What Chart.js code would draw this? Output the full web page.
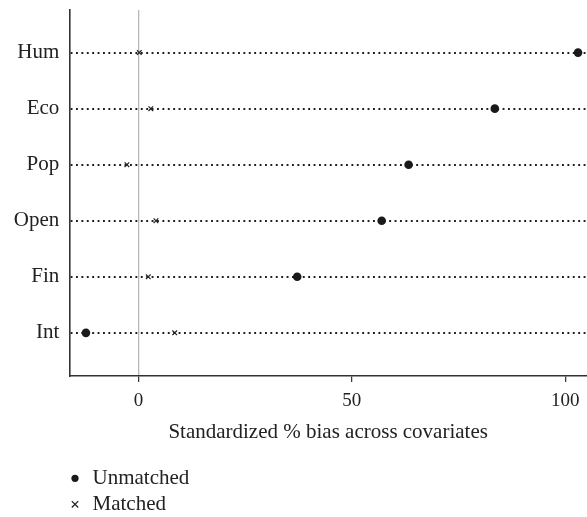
<!DOCTYPE html>
<html>
<head>
<meta charset="utf-8">
<script src="https://cdn.jsdelivr.net/npm/chart.js@4.4.1/dist/chart.umd.min.js"></script>
<style>
  html, body { margin: 0; padding: 0; background: #ffffff; }
  #wrap { width: 587px; height: 517px; }
</style>
</head>
<body>
<div id="wrap"><canvas id="c" width="587" height="517"></canvas></div>
<script>
// ---- data (top-to-bottom order as shown) ----
const categories = ['Hum', 'Eco', 'Pop', 'Open', 'Fin', 'Int'];
const unmatched  = [103.0, 83.5, 63.3, 57.0, 37.2, -12.3];
const matched    = [0.2, 2.9, -2.7, 4.1, 2.3, 8.5];
const xTicks     = [0, 50, 100];
const seriesLabels = ['Unmatched', 'Matched'];
const xTitle = 'Standardized % bias across covariates';

const FONT = '"Liberation Serif", "Times New Roman", serif';
const TXT = '#222222';

// y position of each category (top row highest)
const rowPos = categories.map((_, i) => categories.length - 1 - i);
const toPoints = vals => vals.map((v, i) => ({ x: v, y: rowPos[i] }));

const legendPlugin = {
  id: 'stackedLegend',
  afterDraw(chart) {
    const ctx = chart.ctx;
    const xs = chart.scales.x;
    const baseX = xs.left + 5.7;
    const baseY = xs.bottom + 33;
    const gap = 26;
    ctx.save();
    ctx.font = '21px ' + FONT;
    ctx.textBaseline = 'middle';
    ctx.textAlign = 'left';
    chart.data.datasets.forEach((ds, i) => {
      const y = baseY + i * gap;
      ctx.fillStyle = '#1a1a1a';
      ctx.strokeStyle = '#1a1a1a';
      if (ds.pointStyle === 'circle') {
        ctx.beginPath();
        ctx.arc(baseX, y, 3.6, 0, Math.PI * 2);
        ctx.fill();
      } else {
        const r = 3.2;
        ctx.lineWidth = 1.2;
        ctx.beginPath();
        ctx.moveTo(baseX - r, y - r); ctx.lineTo(baseX + r, y + r);
        ctx.moveTo(baseX - r, y + r); ctx.lineTo(baseX + r, y - r);
        ctx.stroke();
      }
      ctx.fillStyle = TXT;
      ctx.fillText(ds.label, baseX + 17.5, y);
    });
    ctx.restore();
  }
};

new Chart(document.getElementById('c'), {
  type: 'scatter',
  data: {
    datasets: [
      {
        label: seriesLabels[0],
        data: toPoints(unmatched),
        pointStyle: 'circle',
        pointRadius: 4.3,
        pointBackgroundColor: '#1a1a1a',
        pointBorderColor: '#1a1a1a',
        pointBorderWidth: 0,
        pointHoverRadius: 4.3
      },
      {
        label: seriesLabels[1],
        data: toPoints(matched),
        pointStyle: 'crossRot',
        pointRadius: 3.3,
        pointBackgroundColor: '#222222',
        pointBorderColor: '#222222',
        pointBorderWidth: 1.2,
        pointHoverRadius: 3.3
      }
    ]
  },
  options: {
    responsive: false,
    animation: false,
    devicePixelRatio: 1,
    events: [],
    layout: { autoPadding: false, padding: { top: 10, right: 0, bottom: 71.7, left: 0 } },
    plugins: {
      legend: { display: false },
      tooltip: { enabled: false }
    },
    scales: {
      x: {
        type: 'linear',
        min: -16.2,
        max: 105.1,
        afterBuildTicks: s => { s.ticks = xTicks.map(v => ({ value: v })); },
        afterFit: s => { s.height = 69.3; s.paddingLeft = 0; s.paddingRight = 0; },
        ticks: {
          color: TXT,
          font: { family: FONT, size: 19 },
          padding: 8,
          maxRotation: 0
        },
        grid: {
          drawOnChartArea: true,
          color: ctx => (ctx.tick && ctx.tick.value === 0) ? '#b8b8b8' : 'rgba(0,0,0,0)',
          lineWidth: 1.3,
          tickColor: '#333333',
          tickLength: 6,
          tickWidth: 1.2
        },
        border: { display: true, color: '#333333', width: 1.6 },
        title: {
          display: true,
          text: xTitle,
          color: TXT,
          font: { family: FONT, size: 21 },
          padding: { top: 0, bottom: 0 }
        }
      },
      y: {
        type: 'linear',
        min: -0.77,
        max: 5.76,
        afterBuildTicks: s => { s.ticks = rowPos.map(v => ({ value: v })).sort((a, b) => a.value - b.value); },
        afterFit: s => { s.width = 69.3; s.paddingTop = 0; s.paddingBottom = 0; },
        ticks: {
          color: TXT,
          font: { family: FONT, size: 21 },
          padding: 10,
          callback: v => categories[categories.length - 1 - v]
        },
        grid: {
          drawTicks: false,
          color: '#1e1e1e',
          lineWidth: 1.9
        },
        border: { display: true, color: '#333333', width: 1.6, dash: [1.9, 3.5] }
      }
    }
  },
  plugins: [legendPlugin]
});
</script>
</body>
</html>
